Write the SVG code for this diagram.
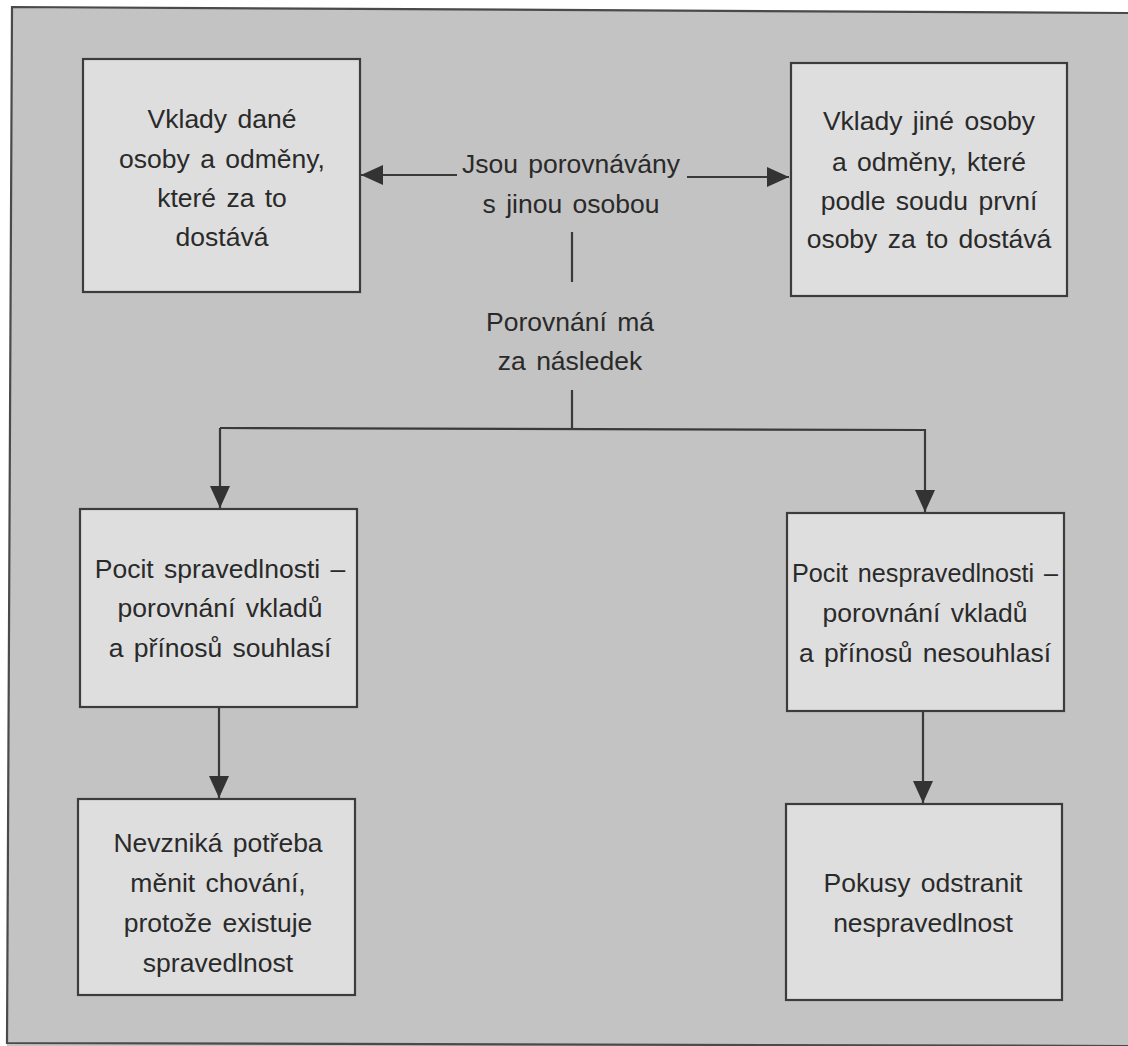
<svg xmlns="http://www.w3.org/2000/svg" width="1128" height="1046" viewBox="0 0 1128 1046">
<defs>
<style>
.box{fill:#dedede;stroke:#3c3c3c;stroke-width:2.2}
.t{font-family:"Liberation Sans",Arial,sans-serif;font-size:26.5px;fill:#2a2a2a;text-anchor:middle;word-spacing:3px}
.c{fill:none;stroke:#3a3a3a;stroke-width:2.2}
</style>
<marker id="ah" markerUnits="userSpaceOnUse" markerWidth="24" markerHeight="22" refX="22" refY="10" orient="auto">
<path d="M0,0 L22,10 L0,20 Z" fill="#333"/>
</marker>
</defs>
<rect x="0" y="0" width="1128" height="1046" fill="#ffffff"/>
<polygon points="12,7 1128,13 1128,1046 7,1046" fill="#c3c3c3"/>
<polyline points="1128,13 12,7 7,1043 1128,1046" fill="none" stroke="#4a4a4a" stroke-width="2.2"/>

<g id="connectors">
<line class="c" x1="457" y1="175" x2="361" y2="175" marker-end="url(#ah)"/>
<line class="c" x1="687" y1="177" x2="789" y2="177" marker-end="url(#ah)"/>
<line class="c" x1="572" y1="232" x2="572" y2="282"/>
<polyline class="c" points="572,390 572,428"/>
<polyline class="c" points="220,428 925,430 925,512" marker-end="url(#ah)"/>
<line class="c" x1="220" y1="428" x2="220" y2="508" marker-end="url(#ah)"/>
<line class="c" x1="219" y1="708" x2="219" y2="798" marker-end="url(#ah)"/>
<line class="c" x1="923" y1="712" x2="923" y2="803" marker-end="url(#ah)"/>
</g>

<g id="n1">
<rect class="box" x="83" y="59" width="277" height="233"/>
<text class="t" x="222" y="128">Vklady dané</text>
<text class="t" x="222" y="168">osoby a odměny,</text>
<text class="t" x="222" y="207">které za to</text>
<text class="t" x="222" y="246">dostává</text>
</g>

<g id="n2">
<rect class="box" x="791" y="63" width="276" height="233"/>
<text class="t" x="929" y="130">Vklady jiné osoby</text>
<text class="t" x="929" y="171">a odměny, které</text>
<text class="t" x="929" y="210">podle soudu první</text>
<text class="t" x="929" y="248">osoby za to dostává</text>
</g>

<g id="n_compare">
<text class="t" x="571" y="173">Jsou porovnávány</text>
<text class="t" x="571" y="213">s jinou osobou</text>
</g>

<g id="n_result">
<text class="t" x="570" y="331">Porovnání má</text>
<text class="t" x="570" y="370">za následek</text>
</g>

<g id="n3">
<rect class="box" x="80" y="509" width="277" height="198"/>
<text class="t" x="220" y="578">Pocit spravedlnosti –</text>
<text class="t" x="220" y="617">porovnání vkladů</text>
<text class="t" x="220" y="657">a přínosů souhlasí</text>
</g>

<g id="n4">
<rect class="box" x="787" y="513" width="277" height="198"/>
<text class="t" x="925" y="582" textLength="266" lengthAdjust="spacingAndGlyphs">Pocit nespravedlnosti –</text>
<text class="t" x="925" y="622">porovnání vkladů</text>
<text class="t" x="925" y="662">a přínosů nesouhlasí</text>
</g>

<g id="n5">
<rect class="box" x="78" y="799" width="277" height="196"/>
<text class="t" x="218" y="852">Nevzniká potřeba</text>
<text class="t" x="218" y="892">měnit chování,</text>
<text class="t" x="218" y="932">protože existuje</text>
<text class="t" x="218" y="972">spravedlnost</text>
</g>

<g id="n6">
<rect class="box" x="786" y="804" width="276" height="196"/>
<text class="t" x="923" y="892">Pokusy odstranit</text>
<text class="t" x="923" y="932">nespravedlnost</text>
</g>
</svg>
